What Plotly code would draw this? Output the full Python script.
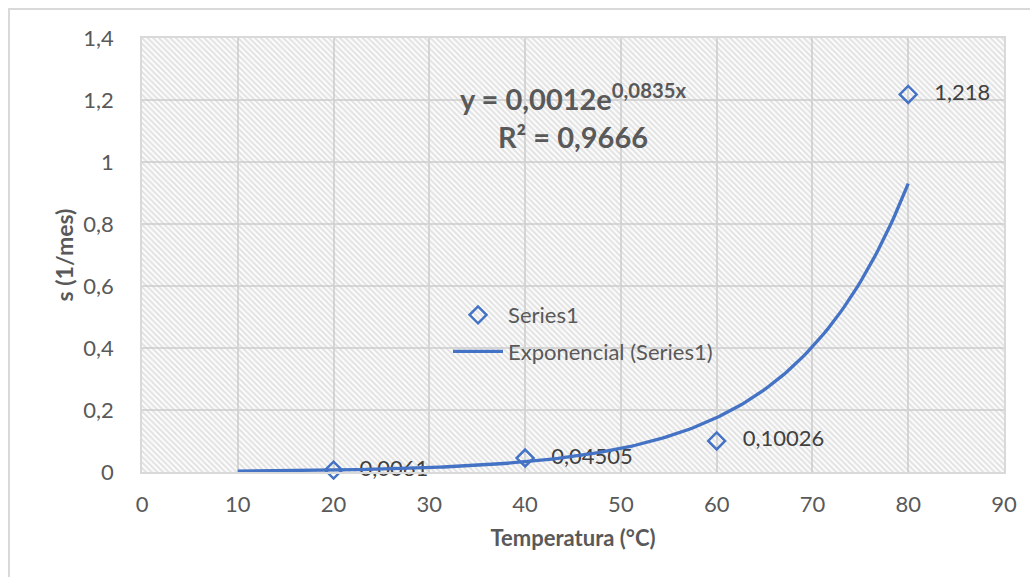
import numpy as np
import plotly.graph_objects as go

# ---- data ----
temperatura = [20, 40, 60, 80]
s_values = [0.0061, 0.04505, 0.10026, 1.218]
point_labels = ["0,0061", "0,04505", "0,10026", "1,218"]
trend_start, trend_end = 10, 80
equation_text = "y = 0,0012e<sup>0,0835x</sup>"
r2_text = "R² = 0,9666"
x_ticks = [0, 10, 20, 30, 40, 50, 60, 70, 80, 90]
y_ticks = [0, 0.2, 0.4, 0.6, 0.8, 1.0, 1.2, 1.4]
X_RANGE = [0, 90]
Y_RANGE = [0, 1.4]

BLUE = "#4472C4"
GRID = "#d9d9d9"
TXT = "#595959"
FONT = "Lato, 'Open Sans', sans-serif"

# exponential trendline via least squares on log(y)
b, ln_a = np.polyfit(np.array(temperatura, float), np.log(np.array(s_values)), 1)
xt = np.linspace(trend_start, trend_end, 200)
yt = np.exp(ln_a) * np.exp(b * xt)

fig = go.Figure()

# hatched plot-area background
fig.add_trace(go.Scatter(
    x=[X_RANGE[0], X_RANGE[1], X_RANGE[1], X_RANGE[0], X_RANGE[0]],
    y=[Y_RANGE[0], Y_RANGE[0], Y_RANGE[1], Y_RANGE[1], Y_RANGE[0]],
    mode="none", fill="toself", fillcolor="rgba(0,0,0,0)",
    fillpattern=dict(shape="\\", fgcolor="#c8c8c8", bgcolor="rgba(0,0,0,0)",
                     size=4, solidity=0.55),
    showlegend=False, hoverinfo="skip",
))

fig.add_trace(go.Scatter(
    x=temperatura, y=s_values, mode="markers+text",
    name="Series1", legendgroup="a",
    marker=dict(symbol="diamond-open", size=13, color=BLUE, line=dict(width=2.5, color=BLUE)),
    text=["\u00a0\u00a0\u00a0" + t for t in point_labels], textposition="middle right",
    textfont=dict(family=FONT, size=22, color="#404040"),
    cliponaxis=False,
))

fig.add_trace(go.Scatter(
    x=xt, y=yt, mode="lines", name="Exponencial (Series1)", legendgroup="b",
    line=dict(color=BLUE, width=3.3),
))

fig.add_annotation(
    x=0.5, y=1.0, xref="paper", yref="paper", xanchor="center", yanchor="top",
    yshift=-38,
    text=f"<b>{equation_text}<br>{r2_text}</b>", showarrow=False, align="center",
    font=dict(family=FONT, size=29, color=TXT),
)

# outer chart border
fig.add_shape(type="rect", xref="paper", yref="paper",
              x0=(9 - 142) / 862, x1=1.2, y0=-0.4, y1=(472 - 9) / 434,
              line=dict(color="#d9d9d9", width=2), fillcolor="rgba(0,0,0,0)", layer="below")

fig.update_layout(
    width=1030, height=577,
    margin=dict(l=142, r=26, t=38, b=105),
    paper_bgcolor="white", plot_bgcolor="white",
    separators=", ",
    font=dict(family=FONT, color=TXT, size=22),
    showlegend=True,
    legend=dict(x=0.355, y=0.41, xanchor="left", yanchor="top",
                bgcolor="rgba(0,0,0,0)", font=dict(size=22, color=TXT),
                traceorder="grouped", tracegroupgap=5, itemwidth=50),
    xaxis=dict(range=X_RANGE, tickvals=x_ticks, showgrid=True, gridcolor=GRID, gridwidth=1.5,
               zeroline=False, showline=True, linecolor=GRID, linewidth=1.5, mirror=True,
               ticks="", ticklabelstandoff=12, tickfont=dict(size=22, color=TXT),
               title=dict(text="<b>Temperatura (°C)</b>", font=dict(size=22, color=TXT), standoff=14)),
    yaxis=dict(range=Y_RANGE, tickvals=y_ticks, showgrid=True, gridcolor=GRID, gridwidth=1.5,
               zeroline=False, showline=True, linecolor=GRID, linewidth=1.5, mirror=True,
               ticks="", ticklabelstandoff=22, tickfont=dict(size=22, color=TXT),
               title=dict(text="<b>s (1/mes)</b>", font=dict(size=23, color=TXT), standoff=3)),
)

fig.write_html("out.html")
